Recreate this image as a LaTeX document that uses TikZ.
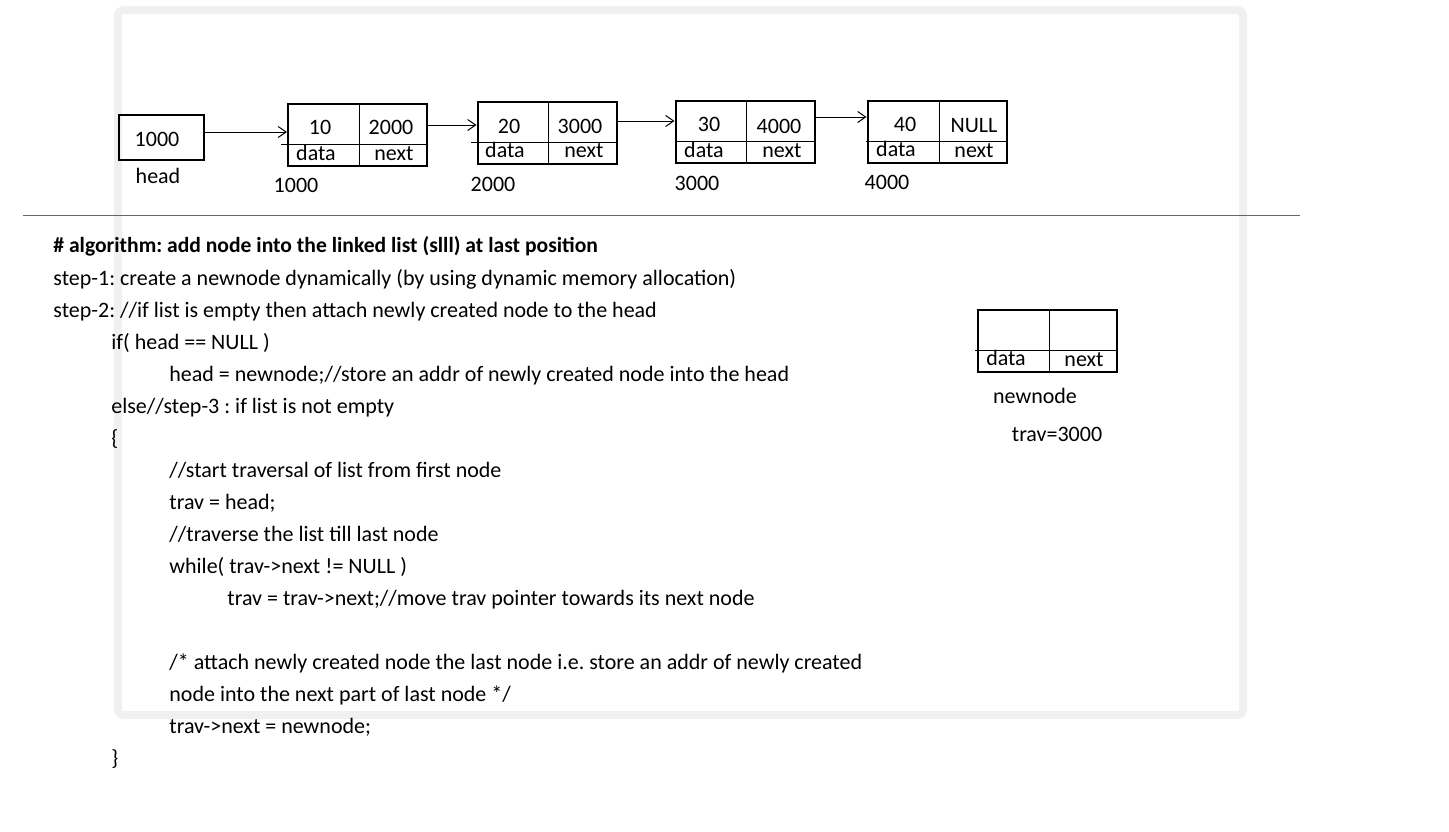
\documentclass[tikz,border=0pt]{standalone}
\usepackage{fontspec}
\usetikzlibrary{arrows.meta}
\setmainfont{Carlito}
\frenchspacing
\tikzset{
  cell/.style={draw, line width=1pt, minimum width=69.5pt, minimum height=31pt, inner sep=0pt},
  headbox/.style={draw, line width=1pt, minimum width=42.5pt, minimum height=22.5pt, inner sep=0pt},
  lbl/.style={font=\fontsize{11}{13}\selectfont, inner sep=0pt},
  code/.style={font=\fontsize{11}{13}\selectfont, inner sep=0pt, anchor=base west},
  sep/.style={line width=0.5pt},
  arr/.style={-{Straight Barb[length=4pt,width=5.5pt]}, line width=0.5pt}
}
\begin{document}
\begin{tikzpicture}[x=0.5pt,y=-0.5pt]
\useasboundingbox (0,0) rectangle (1449,831);
\draw[black!6, line width=4pt, rounded corners=3pt] (118,10) rectangle (1243,715);

% head pointer
\node[headbox] (head) at (161.5,137.5) {};
\node[lbl] (headval) at (157,139) {1000};
\node[lbl] (headname) at (158,176) {head};

% list nodes
\node[cell] (n1) at (357.5,135) {};
\draw[sep] (281,144) -- (427,144);
\draw[sep] (359,104) -- (359,166);
\node[lbl] (d1) at (320,127) {10};
\node[lbl] (p1) at (391,127) {2000};
\node[lbl] (dl1) at (316,153) {data};
\node[lbl] (nl1) at (394,154) {next};
\node[lbl] (a1) at (296,185) {1000};

\node[cell] (n2) at (547,133) {};
\draw[sep] (471,142) -- (616,142);
\draw[sep] (548,102) -- (548,164);
\node[lbl] (d2) at (509,126) {20};
\node[lbl] (p2) at (580,126) {3000};
\node[lbl] (dl2) at (505,150) {data};
\node[lbl] (nl2) at (584,151) {next};
\node[lbl] (a2) at (493,184) {2000};

\node[cell] (n3) at (745,132) {};
\draw[sep] (676,141) -- (814,141);
\draw[sep] (746,101) -- (746,163);
\node[lbl] (d3) at (709,124) {30};
\node[lbl] (p3) at (779,126) {4000};
\node[lbl] (dl3) at (704,150) {data};
\node[lbl] (nl3) at (782,151) {next};
\node[lbl] (a3) at (697,183) {3000};

\node[cell] (n4) at (937,132) {};
\draw[sep] (866,141) -- (1006,141);
\draw[sep] (939,101) -- (939,163);
\node[lbl] (d4) at (905,124) {40};
\node[lbl] (p4) at (974,126) {NULL};
\node[lbl] (dl4) at (896,149) {data};
\node[lbl] (nl4) at (974,151) {next};
\node[lbl] (a4) at (887,182) {4000};

\draw[arr] ([yshift=2.75pt]head.east) -- ([yshift=2.75pt]head.east -| n1.west);
\draw[arr] ([yshift=5pt]n1.east) -- ([yshift=5pt]n1.east -| n2.west);
\draw[arr] ([yshift=6pt]n2.east) -- ([yshift=6pt]n2.east -| n3.west);
\draw[arr] ([yshift=7.5pt]n3.east) -- ([yshift=7.5pt]n3.east -| n4.west);

\draw[black!60, line width=0.5pt] (23,215) -- (1300,215);

% new node
\node[cell] (nn) at (1047.5,341) {};
\draw[sep] (975,350) -- (1117,350);
\draw[sep] (1049,310) -- (1049,372);
\node[lbl] (dln) at (1006,358) {data};
\node[lbl] (nln) at (1084,360) {next};
\node[lbl] (nname) at (1035,396) {newnode};
\node[lbl] (trav) at (1057,434) {trav=3000};

% algorithm
\node[code, font=\fontsize{10.8}{13}\selectfont\bfseries] (title) at (53,252) {\# algorithm: add node into the linked list (slll) at last position};
\node[code] (s1) at (53,285) {step-1: create a newnode dynamically (by using dynamic memory allocation)};
\node[code] (s2) at (53,317) {step-2: //if list is empty then attach newly created node to the head};
\node[code] (c1) at (111,349) {if( head == NULL )};
\node[code] (c2) at (169,381) {head = newnode;//store an addr of newly created node into the head};
\node[code] (c3) at (111,413) {else//step-3 : if list is not empty};
\node[code] (c4) at (111,445) {\{};
\node[code] (c5) at (169,477) {//start traversal of list from first node};
\node[code] (c6) at (169,509) {trav = head;};
\node[code] (c7) at (169,541) {//traverse the list till last node};
\node[code] (c8) at (169,573) {while( trav->next != NULL )};
\node[code] (c9) at (227,605) {trav = trav->next;//move trav pointer towards its next node};
\node[code] (c10) at (169,669) {/* attach newly created node the last node i.e. store an addr of newly created};
\node[code] (c11) at (169,701) {node into the next part of last node */};
\node[code] (c12) at (169,733) {trav->next = newnode;};
\node[code] (c13) at (111,765) {\}};
\end{tikzpicture}
\end{document}
